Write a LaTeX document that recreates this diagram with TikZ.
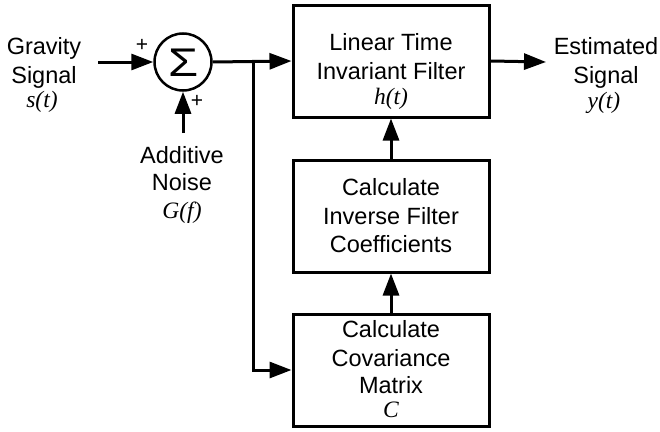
\documentclass[tikz,border=0pt]{standalone}
\usepackage{fontspec}
\setmainfont{Liberation Sans}
\newfontfamily\serifface{Liberation Serif}
\usetikzlibrary{arrows.meta}
\begin{document}
\begin{tikzpicture}[x=1pt,y=-1pt,
  lbl/.style={anchor=base,inner sep=0pt,font=\fontsize{23.5}{28}\selectfont},
  ilbl/.style={anchor=base,inner sep=0pt,font=\fontsize{23.5}{28}\serifface\itshape},
  blk/.style={draw,line width=3pt,minimum width=196pt,minimum height=112pt,inner sep=0pt},
  conn/.style={line width=3pt,-{Triangle[length=22pt,width=16pt]}},
  plus/.style={inner sep=0pt,font=\fontsize{21}{21}\selectfont}]
\useasboundingbox (0,0) rectangle (660,431);
% blocks
\node[blk] (lti) at (391,61) {};
\node[blk] (inv) at (391,216) {};
\node[blk] (cov) at (391,370) {};
\node[draw,circle,line width=2.5pt,minimum size=57pt,inner sep=0pt] (sum) at (183,62) {};
\node[inner sep=0pt,font=\fontsize{40}{40}\selectfont] (sig) at (183.5,62.5) {\scalebox{1.22}[1]{Σ}};
% block texts
\node[lbl] (t1) at (391,50) {Linear Time};
\node[lbl] (t2) at (391,79) {Invariant Filter};
\node[ilbl] (t3) at (391,104) {h(t)};
\node[lbl] (m1) at (391,195) {Calculate};
\node[lbl] (m2) at (391,224) {Inverse Filter};
\node[lbl] (m3) at (391,252) {Coefficients};
\node[lbl] (b1) at (391,337) {Calculate};
\node[lbl] (b2) at (391,366) {Covariance};
\node[lbl] (b3) at (391,393) {Matrix};
\node[ilbl] (b4) at (391,417) {C};
% outside labels
\node[lbl] (g1) at (44,54) {Gravity};
\node[lbl] (g2) at (44,83) {Signal};
\node[ilbl] (g3) at (42,107) {s(t)};
\node[lbl] (e1) at (606,54) {Estimated};
\node[lbl] (e2) at (606,83) {Signal};
\node[ilbl] (e3) at (604,108) {y(t)};
\node[lbl] (n1) at (182,163) {Additive};
\node[lbl] (n2) at (182,190) {Noise};
\node[ilbl] (n3) at (182,218) {G(f)};
\node[plus] (p1) at (142,45) {+};
\node[plus] (p2) at (197,101) {+};
% connectors
\coordinate (gin) at (98,62);
\coordinate (nin) at (183,133);
\coordinate (br) at (253,62);
\coordinate (out) at (546,62);
\draw[conn] (gin) -- (sum.west);
\draw[conn] (nin) -- (sum.south);
\draw[conn] (sum.east) -- (lti.west);
\draw[conn] (br) |- (cov.west);
\draw[conn] (lti.east) -- (out);
\draw[conn] (inv.north) -- (lti.south);
\draw[conn] (cov.north) -- (inv.south);
\end{tikzpicture}
\end{document}
